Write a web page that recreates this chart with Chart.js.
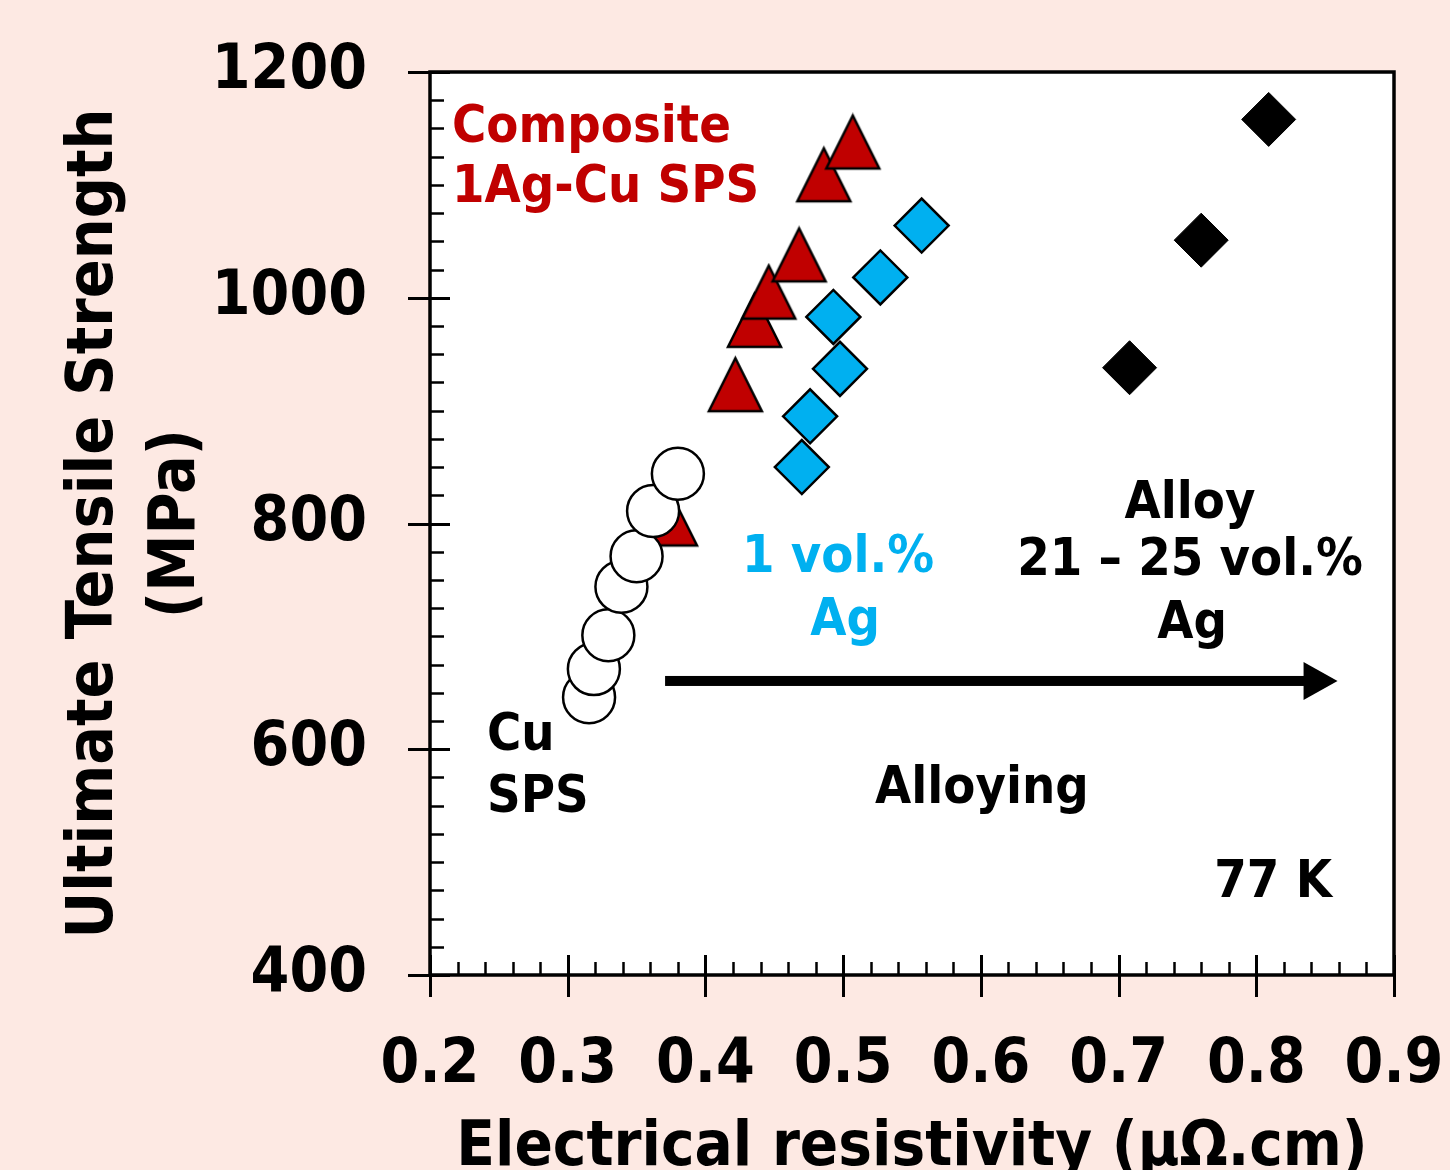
<!DOCTYPE html>
<html>
<head>
<meta charset="utf-8">
<script src="https://cdn.jsdelivr.net/npm/chart.js@4.4.0/dist/chart.umd.min.js"></script>
<style>
  html, body { margin: 0; padding: 0; background: #fde9e3; }
  #wrap { width: 1450px; height: 1170px; }
</style>
</head>
<body>
<div id="wrap"><canvas id="chart" width="1450" height="1170"></canvas></div>
<script>
// Cu SPS (open circles)
const cuSpsX = [0.3155, 0.319, 0.3295, 0.339, 0.350, 0.362, 0.380];
const cuSpsY = [646, 671, 701, 744, 771, 811, 844];

// Composite 1Ag-Cu SPS (red triangles)
const compositeX = [0.3746, 0.4217, 0.4356, 0.446, 0.468, 0.486, 0.507];
const compositeY = [804, 923, 980, 1005, 1038, 1109, 1138];

// Alloy 1 vol.% Ag (blue diamonds)
const alloy1X = [0.470, 0.476, 0.4929, 0.4977, 0.527, 0.557];
const alloy1Y = [850, 895, 983, 937, 1018, 1064];

// Alloy 21-25 vol.% Ag (black diamonds)
const alloy21X = [0.708, 0.760, 0.809];
const alloy21Y = [938, 1051, 1158];

const xTicks = [0.2, 0.3, 0.4, 0.5, 0.6, 0.7, 0.8, 0.9];
const yTicks = [400, 600, 800, 1000, 1200];

const FONT = '"DejaVu Sans Condensed", "DejaVu Sans", Tahoma, sans-serif';
const RED = '#c00000';
const BLUE = '#00b0f0';

const toPoints = (xs, ys) => xs.map((x, i) => ({x: x, y: ys[i]}));

function makeTriangle(size, fill) {
    const m = 3;
    const c = document.createElement('canvas');
    c.width = size + 2 * m;
    c.height = size + 2 * m;
    const g = c.getContext('2d');
    g.beginPath();
    g.moveTo(m + size / 2, m);
    g.lineTo(m + size, m + size);
    g.lineTo(m, m + size);
    g.closePath();
    g.fillStyle = fill;
    g.fill();
    g.lineWidth = 2.5;
    g.strokeStyle = '#000';
    g.stroke();
    return c;
}

// text annotations, placed in data units
const notes = [
    {text: 'Composite', x: 0.216, y: 1138, color: RED, align: 'left'},
    {text: '1Ag-Cu SPS', x: 0.216, y: 1085, color: RED, align: 'left'},
    {text: '1 vol.%', x: 0.4963, y: 757, color: BLUE, align: 'center'},
    {text: 'Ag', x: 0.5014, y: 701, color: BLUE, align: 'center'},
    {text: 'Alloy', x: 0.7519, y: 805, color: '#000', align: 'center'},
    {text: '21 \u2013 25 vol.%', x: 0.7519, y: 754, color: '#000', align: 'center'},
    {text: 'Ag', x: 0.7534, y: 699, color: '#000', align: 'center'},
    {text: 'Cu', x: 0.2414, y: 599, color: '#000', align: 'left'},
    {text: 'SPS', x: 0.2414, y: 544, color: '#000', align: 'left'},
    {text: 'Alloying', x: 0.6008, y: 552, color: '#000', align: 'center'},
    {text: '77 K', x: 0.8122, y: 469, color: '#000', align: 'center'}
];
const arrow = {x0: 0.3707, x1: 0.859, y: 660.5};

const framePlugin = {
    id: 'framePlugin',
    beforeDraw(chart) {
        const {ctx, chartArea: {left, right, top, bottom}} = chart;
        ctx.save();
        ctx.fillStyle = '#fde9e3';
        ctx.fillRect(0, 0, chart.width, chart.height);
        ctx.fillStyle = '#ffffff';
        ctx.fillRect(left, top, right - left, bottom - top);
        ctx.restore();
    },
    afterDatasetsDraw(chart) {
        const {ctx, chartArea: {left, right, top, bottom}, scales: {x, y}} = chart;
        ctx.save();
        ctx.strokeStyle = '#000';
        ctx.lineCap = 'butt';

        // minor ticks, inside
        ctx.lineWidth = 2.5;
        ctx.beginPath();
        for (let v = 400; v <= 1200; v += 25) {
            if (v % 200 === 0) continue;
            const py = Math.round(y.getPixelForValue(v)) + 0.5;
            ctx.moveTo(left, py);
            ctx.lineTo(left + 14, py);
        }
        for (let k = 20; k <= 90; k += 2) {
            if (k % 10 === 0) continue;
            const px = Math.round(x.getPixelForValue(k / 100)) + 0.5;
            ctx.moveTo(px, bottom);
            ctx.lineTo(px, bottom - 13);
        }
        ctx.stroke();

        // major ticks, crossing
        ctx.lineWidth = 3;
        ctx.beginPath();
        yTicks.forEach(v => {
            const py = Math.round(y.getPixelForValue(v)) + 0.5;
            ctx.moveTo(left - 22, py);
            ctx.lineTo(left + 20, py);
        });
        xTicks.forEach(v => {
            const px = Math.round(x.getPixelForValue(v)) + 0.5;
            ctx.moveTo(px, bottom + 22);
            ctx.lineTo(px, bottom - 20);
        });
        ctx.stroke();

        // frame
        ctx.lineWidth = 3.5;
        ctx.strokeRect(left, top, right - left, bottom - top);

        // arrow
        const ax0 = x.getPixelForValue(arrow.x0);
        const ax1 = x.getPixelForValue(arrow.x1);
        const ay = y.getPixelForValue(arrow.y);
        ctx.fillStyle = '#000';
        ctx.fillRect(ax0, ay - 5, ax1 - ax0 - 30, 10);
        ctx.beginPath();
        ctx.moveTo(ax1, ay);
        ctx.lineTo(ax1 - 34, ay - 19);
        ctx.lineTo(ax1 - 34, ay + 19);
        ctx.closePath();
        ctx.fill();

        // annotations
        ctx.font = 'bold 52px ' + FONT;
        ctx.textBaseline = 'alphabetic';
        notes.forEach(n => {
            ctx.fillStyle = n.color;
            ctx.textAlign = n.align;
            ctx.fillText(n.text, x.getPixelForValue(n.x), y.getPixelForValue(n.y));
        });

        // axis titles
        ctx.fillStyle = '#000';
        ctx.textAlign = 'center';
        ctx.font = 'bold 63px ' + FONT;
        ctx.fillText('Electrical resistivity (\u03bc\u03a9.cm)', (left + right) / 2, 1165);

        ctx.font = 'bold 64px ' + FONT;
        ctx.save();
        ctx.translate(112, (top + bottom) / 2);
        ctx.rotate(-Math.PI / 2);
        ctx.fillText('Ultimate Tensile Strength', 0, 0);
        ctx.restore();
        ctx.save();
        ctx.translate(194, (top + bottom) / 2);
        ctx.rotate(-Math.PI / 2);
        ctx.fillText('(MPa)', 0, 0);
        ctx.restore();

        ctx.restore();
    }
};

const triangle = makeTriangle(53, RED);

new Chart(document.getElementById('chart'), {
    type: 'scatter',
    data: {
        datasets: [
            {
                label: 'Cu SPS',
                data: toPoints(cuSpsX, cuSpsY),
                pointStyle: 'circle',
                pointRadius: 26,
                pointHoverRadius: 26,
                backgroundColor: '#ffffff',
                borderColor: '#000',
                borderWidth: 2.5
            },
            {
                label: 'Composite 1Ag-Cu SPS',
                data: toPoints(compositeX, compositeY),
                pointStyle: triangle,
                backgroundColor: RED,
                borderColor: '#000'
            },
            {
                label: 'Alloy 1 vol.% Ag',
                data: toPoints(alloy1X, alloy1Y),
                pointStyle: 'rectRot',
                pointRadius: 27,
                pointHoverRadius: 27,
                backgroundColor: BLUE,
                borderColor: '#000',
                borderWidth: 2.5
            },
            {
                label: 'Alloy 21-25 vol.% Ag',
                data: toPoints(alloy21X, alloy21Y),
                pointStyle: 'rectRot',
                pointRadius: 27,
                pointHoverRadius: 27,
                backgroundColor: '#000',
                borderColor: '#000',
                borderWidth: 1
            }
        ]
    },
    options: {
        responsive: false,
        animation: false,
        devicePixelRatio: 1,
        layout: {padding: {top: 72, right: 56, left: 0, bottom: 0}},
        plugins: {
            legend: {display: false},
            tooltip: {enabled: false}
        },
        scales: {
            x: {
                type: 'linear',
                min: 0.2,
                max: 0.9,
                afterBuildTicks: axis => { axis.ticks = xTicks.map(v => ({value: v})); },
                afterFit: axis => {
                    axis.height = 195;
                    axis.paddingLeft = 0;
                    axis.paddingRight = 0;
                },
                grid: {display: false},
                border: {display: false},
                ticks: {
                    color: '#000',
                    font: {family: FONT, size: 62, weight: 'bold'},
                    padding: 46,
                    maxRotation: 0,
                    callback: v => v.toFixed(1)
                }
            },
            y: {
                type: 'linear',
                min: 400,
                max: 1200,
                afterBuildTicks: axis => { axis.ticks = yTicks.map(v => ({value: v})); },
                afterFit: axis => {
                    axis.width = 430;
                    axis.paddingTop = 0;
                    axis.paddingBottom = 0;
                },
                grid: {display: false},
                border: {display: false},
                ticks: {
                    color: '#000',
                    font: {family: FONT, size: 62, weight: 'bold'},
                    padding: 55,
                    callback: v => String(v)
                }
            }
        }
    },
    plugins: [framePlugin]
});
</script>
</body>
</html>
